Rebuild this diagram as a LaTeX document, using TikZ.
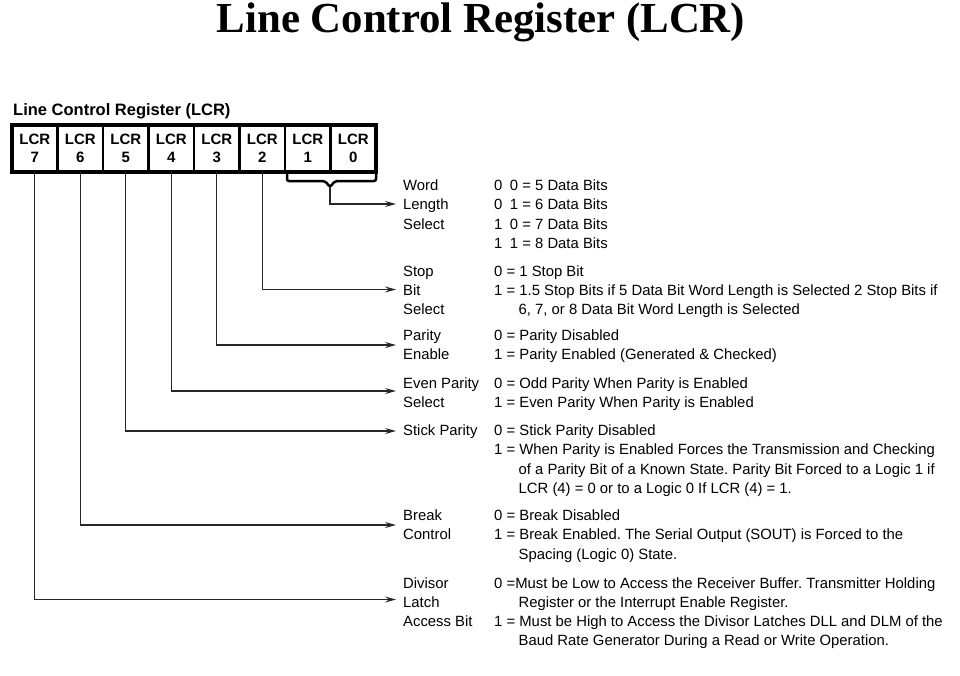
\documentclass[tikz,border=0pt]{standalone}
\usepackage{fontspec}
\setmainfont{Liberation Sans}
\newfontfamily\titlefont{Liberation Serif}
\usetikzlibrary{arrows.meta}
\frenchspacing
\tikzset{
  cell/.style={draw, line width=2.5pt, outer sep=0pt, inner sep=0pt, minimum width=45.5pt,
    minimum height=47pt, align=center, font=\bfseries\fontsize{15}{18}\selectfont},
  wire/.style={line width=1.2pt, color=black!85},
  arr/.style={wire, -{Stealth[length=11pt,width=6pt,inset=4pt]}},
  % base of a multi-line node is the baseline of its last line
  txt/.style={anchor=base west, align=left, inner sep=0pt, font=\fontsize{14.85}{19.2}\selectfont}
}
\newcommand{\lcrindent}{\hspace*{24.5pt}}
\newcommand{\bitgap}{\hspace{7.5pt}}
\begin{document}
\begin{tikzpicture}[x=1pt, y=-1pt]
  \useasboundingbox (0,0) rectangle (960,675);
  \coordinate (b-l) at (287,174);
  \coordinate (b-r) at (376,174);
  \coordinate (tip) at (330,187);
  \coordinate (t-word) at (396,204);
  \coordinate (t-stop) at (396,289.5);
  \coordinate (t-par) at (396,345);
  \coordinate (t-even) at (396,391);
  \coordinate (t-stick) at (396,431);
  \coordinate (t-brk) at (396,525);
  \coordinate (t-dlab) at (396,599.5);
  \node[anchor=base, inner sep=0pt, font=\titlefont\bfseries\fontsize{42.8}{50}\selectfont] (title) at (481,32.3) {Line Control Register (LCR)};
  \node[anchor=base west, inner sep=0pt, font=\bfseries\fontsize{16.5}{20}\selectfont] (regname) at (13,115) {Line Control Register (LCR)};
  % register cells
  \node[cell] (c7) at (34.75,148.5) {LCR\\7};
  \node[cell] (c6) at (80.25,148.5) {LCR\\6};
  \node[cell] (c5) at (125.75,148.5) {LCR\\5};
  \node[cell] (c4) at (171.25,148.5) {LCR\\4};
  \node[cell] (c3) at (216.75,148.5) {LCR\\3};
  \node[cell] (c2) at (262.25,148.5) {LCR\\2};
  \node[cell] (c1) at (307.75,148.5) {LCR\\1};
  \node[cell] (c0) at (353.25,148.5) {LCR\\0};
  \draw[line width=4pt] (c7.north west) rectangle (c0.south east);
  % brace under LCR 1 and LCR 0
  \draw[line width=2.5pt, rounded corners=2pt] (b-l) -- (287,181) -- (325,181) -- (tip) -- (335,181) -- (376,181) -- (b-r);
  \draw[arr] (tip) |- (t-word);
  \draw[arr] (c2.south) |- (t-stop);
  \draw[arr] (c3.south) |- (t-par);
  \draw[arr] (c4.south) |- (t-even);
  \draw[arr] (c5.south) |- (t-stick);
  \draw[arr] (c6.south) |- (t-brk);
  \draw[arr] (c7.south) |- (t-dlab);
  % descriptions
  \node[txt] (l-word) at (403,229.1) {Word\\Length\\Select};
  \node[txt] (v-word) at (494,248.3) {0\bitgap 0 = 5 Data Bits\\0\bitgap 1 = 6 Data Bits\\1\bitgap 0 = 7 Data Bits\\1\bitgap 1 = 8 Data Bits};
  \node[txt] (l-stop) at (403,314.4) {Stop\\Bit\\Select};
  \node[txt] (v-stop) at (494,314.4) {0 = 1 Stop Bit\\1 = 1.5 Stop Bits if 5 Data Bit Word Length is Selected 2 Stop Bits if\\\lcrindent 6, 7, or 8 Data Bit Word Length is Selected};
  \node[txt] (l-par) at (403,359.9) {Parity\\Enable};
  \node[txt] (v-par) at (494,359.9) {0 = Parity Disabled\\1 = Parity Enabled (Generated \& Checked)};
  \node[txt] (l-even) at (403,407.2) {Even Parity\\Select};
  \node[txt] (v-even) at (494,407.2) {0 = Odd Parity When Parity is Enabled\\1 = Even Parity When Parity is Enabled};
  \node[txt] (l-stick) at (403,435.7) {Stick Parity};
  \node[txt] (v-stick) at (494,493.3) {0 = Stick Parity Disabled\\1 = When Parity is Enabled Forces the Transmission and Checking\\\lcrindent of a Parity Bit of a Known State. Parity Bit Forced to a Logic 1 if\\\lcrindent LCR (4) = 0 or to a Logic 0 If LCR (4) = 1.};
  \node[txt] (l-brk) at (403,539.9) {Break\\Control};
  \node[txt] (v-brk) at (494,559.1) {0 = Break Disabled\\1 = Break Enabled. The Serial Output (SOUT) is Forced to the\\\lcrindent Spacing (Logic 0) State.};
  \node[txt] (l-dlab) at (403,626.4) {Divisor\\Latch\\Access Bit};
  \node[txt] (v-dlab) at (494,645.6) {0 =Must be Low to Access the Receiver Buffer. Transmitter Holding\\\lcrindent Register or the Interrupt Enable Register.\\1 = Must be High to Access the Divisor Latches DLL and DLM of the\\\lcrindent Baud Rate Generator During a Read or Write Operation.};
\end{tikzpicture}
\end{document}
